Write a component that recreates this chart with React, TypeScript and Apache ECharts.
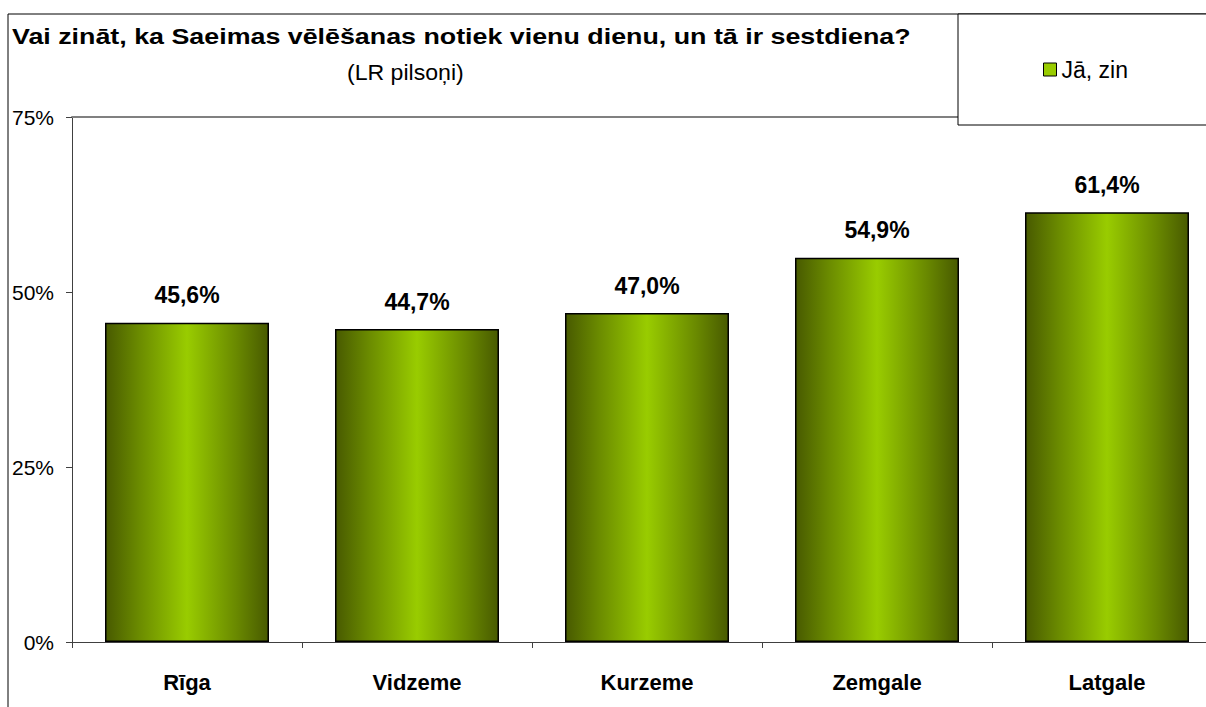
import React, { useEffect, useRef } from "react";
import * as echarts from "echarts";

const categories = ["Rīga", "Vidzeme", "Kurzeme", "Zemgale", "Latgale"];
const values = [45.6, 44.7, 47.0, 54.9, 61.4];
const seriesName = "Jā, zin";
const titleText = "Vai zināt, ka Saeimas vēlēšanas notiek vienu dienu, un tā ir sestdiena?";
const subtitleText = "(LR pilsoņi)";
const yMin = 0;
const yMax = 75;
const yInterval = 25;

const FONT = "'Liberation Sans', Arial, sans-serif";

export default function App() {
  const ref = useRef<HTMLDivElement>(null);
  useEffect(() => {
    if (!ref.current) return;
    const chart = echarts.init(ref.current, null, { renderer: "svg" });
    const barGradient = new echarts.graphic.LinearGradient(0, 0, 1, 0, [
      { offset: 0, color: "#485a00" },
      { offset: 0.2, color: "#6a8a00" },
      { offset: 0.5, color: "#99cc00" },
      { offset: 0.8, color: "#6a8a00" },
      { offset: 1, color: "#485a00" },
    ]);
    chart.setOption({
      animation: false,
      backgroundColor: "#ffffff",
      textStyle: { fontFamily: FONT },
      legend: {
        left: 1043,
        top: 58,
        padding: 0,
        itemWidth: 13,
        itemHeight: 13,
        itemGap: 8,
        icon: "rect",
        z: 6,
        textStyle: { fontFamily: FONT, fontSize: 23, color: "#000" },
        data: [{ name: seriesName, itemStyle: { color: "#99cc00", borderColor: "#000", borderWidth: 1 } }],
      },
      graphic: [
        {
          type: "rect",
          z: 1,
          shape: { x: 8, y: 14, width: 1400, height: 900 },
          style: { fill: "none", stroke: "#000", lineWidth: 1 },
        },
        {
          type: "rect",
          z: 5,
          shape: { x: 958, y: 14, width: 400, height: 111 },
          style: { fill: "#fff", stroke: "#000", lineWidth: 1 },
        },
        {
          type: "text",
          z: 6,
          x: 12,
          y: 36,
          scaleX: 1.22,
          style: {
            text: titleText,
            fontFamily: FONT,
            fontSize: 22,
            fontWeight: "bold",
            fill: "#000",
            align: "left",
            verticalAlign: "middle",
          },
        },
        {
          type: "text",
          z: 6,
          x: 347,
          y: 73,
          scaleX: 1.05,
          style: {
            text: subtitleText,
            fontFamily: FONT,
            fontSize: 22,
            fontWeight: "normal",
            fill: "#000",
            align: "left",
            verticalAlign: "middle",
          },
        },
      ],
      grid: { left: 72, top: 117, right: 18, bottom: 78 },
      xAxis: [
        {
          type: "category",
          data: categories,
          axisLine: { lineStyle: { color: "#404040", width: 1 } },
          axisTick: { show: true, length: 6, lineStyle: { color: "#404040" } },
          axisLabel: {
            margin: 29,
            fontFamily: FONT,
            fontSize: 22,
            fontWeight: "bold",
            color: "#000",
          },
        },
        {
          type: "category",
          position: "top",
          data: categories,
          axisLine: { lineStyle: { color: "#808080", width: 2 } },
          axisTick: { show: false },
          axisLabel: { show: false },
        },
      ],
      yAxis: {
        type: "value",
        min: yMin,
        max: yMax,
        interval: yInterval,
        axisLine: { show: true, lineStyle: { color: "#404040", width: 1 } },
        axisTick: { show: true, length: 6, lineStyle: { color: "#404040" } },
        splitLine: { show: false },
        axisLabel: {
          margin: 18,
          fontFamily: FONT,
          fontSize: 21,
          color: "#000",
          formatter: (v: number) => `${v}%`,
        },
      },
      series: [
        {
          name: seriesName,
          type: "bar",
          data: values,
          barWidth: "71.3%",
          itemStyle: { color: barGradient, borderColor: "#000", borderWidth: 1.5 },
          label: {
            show: true,
            position: "top",
            distance: 16,
            fontFamily: FONT,
            fontSize: 23,
            fontWeight: "bold",
            color: "#000",
            formatter: (p: any) => `${Number(p.value).toFixed(1).replace(".", ",")}%`,
          },
        },
      ],
    });
    return () => chart.dispose();
  }, []);
  return (
    <div style={{ position: "fixed", left: 0, top: 0, width: 1206, height: 707, overflow: "hidden", background: "#fff" }}>
      <div ref={ref} style={{ width: 1240, height: 720 }} />
    </div>
  );
}
